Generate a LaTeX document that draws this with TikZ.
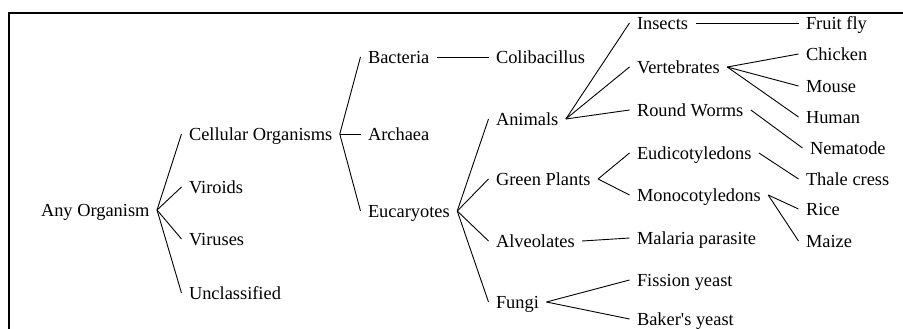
\documentclass[tikz,border=0pt]{standalone}
\usepackage{fontspec}
\setmainfont{Liberation Serif}

\begin{document}
\begin{tikzpicture}[x=1pt,y=-1pt,
    taxon/.style={anchor=west,inner xsep=4pt,outer xsep=3.5pt,inner ysep=0pt,text height=12.5pt,text depth=0pt,xshift=-7.5pt,font=\fontsize{18.4}{22}\selectfont},
    branch/.style={line width=0.9pt}]
    \useasboundingbox (0,0) rectangle (903,329);
    % Definitions
    \coordinate (AnyOrg)   at (41,210);
    \coordinate (Cellular) at (189,134);
    \coordinate (Viroids)  at (189,187);
    \coordinate (Viruses)  at (189,239);
    \coordinate (Unclass)  at (189,293);
    \coordinate (Bacteria) at (368,57);
    \coordinate (Archaea)  at (368,134);
    \coordinate (Eucar)    at (368,211);
    \coordinate (Colibac)  at (496,57);
    \coordinate (Animals)  at (496,119);
    \coordinate (GreenPl)  at (496,179);
    \coordinate (Alveol)   at (496,241);
    \coordinate (Fungi)    at (496,302);
    \coordinate (Insects)  at (637,23);
    \coordinate (Vertebr)  at (637,67);
    \coordinate (RoundW)   at (637,110);
    \coordinate (Eudicot)  at (637,153);
    \coordinate (Monocot)  at (637,195);
    \coordinate (Malaria)  at (637,238);
    \coordinate (Fission)  at (637,280);
    \coordinate (Bakers)   at (637,319);
    \coordinate (FruitFly) at (806,23);
    \coordinate (Chicken)  at (806,54);
    \coordinate (Mouse)    at (806,86);
    \coordinate (Human)    at (806,117);
    \coordinate (Nematode) at (810,148);
    \coordinate (Thale)    at (806,179);
    \coordinate (Rice)     at (806,209);
    \coordinate (Maize)    at (806,241);
    % Frame
    \draw[line width=1.3pt] (903,13) -- (9,13) -- (9,329);
    % Nodes
    \node(AO) at (AnyOrg)   [taxon] {Any Organism};
    \node(CO) at (Cellular) [taxon] {Cellular Organisms};
    \node(VD) at (Viroids)  [taxon] {Viroids};
    \node(VR) at (Viruses)  [taxon] {Viruses};
    \node(UC) at (Unclass)  [taxon] {Unclassified};
    \node(BA) at (Bacteria) [taxon] {Bacteria};
    \node(AR) at (Archaea)  [taxon] {Archaea};
    \node(EU) at (Eucar)    [taxon] {Eucaryotes};
    \node(CB) at (Colibac)  [taxon] {Colibacillus};
    \node(AN) at (Animals)  [taxon] {Animals};
    \node(GP) at (GreenPl)  [taxon] {Green Plants};
    \node(AL) at (Alveol)   [taxon] {Alveolates};
    \node(FU) at (Fungi)    [taxon] {Fungi};
    \node(IN) at (Insects)  [taxon] {Insects};
    \node(VE) at (Vertebr)  [taxon] {Vertebrates};
    \node(RW) at (RoundW)   [taxon] {Round Worms};
    \node(ED) at (Eudicot)  [taxon] {Eudicotyledons};
    \node(MC) at (Monocot)  [taxon] {Monocotyledons};
    \node(MP) at (Malaria)  [taxon] {Malaria parasite};
    \node(FI) at (Fission)  [taxon] {Fission yeast};
    \node(BY) at (Bakers)   [taxon] {Baker\textquotesingle s yeast};
    \node(FF) at (FruitFly) [taxon] {Fruit fly};
    \node(CH) at (Chicken)  [taxon] {Chicken};
    \node(MO) at (Mouse)    [taxon] {Mouse};
    \node(HU) at (Human)    [taxon] {Human};
    \node(NE) at (Nematode) [taxon] {Nematode};
    \node(TC) at (Thale)    [taxon] {Thale cress};
    \node(RI) at (Rice)     [taxon] {Rice};
    \node(MA) at (Maize)    [taxon] {Maize};
    % Branches
    \draw[branch] (AO.east) -- (CO.west);
    \draw[branch] (AO.east) -- (VD.west);
    \draw[branch] (AO.east) -- (VR.west);
    \draw[branch] (AO.east) -- (UC.west);
    \draw[branch] (CO.east) -- (BA.west);
    \draw[branch] (CO.east) -- (AR.west);
    \draw[branch] (CO.east) -- (EU.west);
    \draw[branch] (BA.east) -- (CB.west);
    \draw[branch] (EU.east) -- (AN.west);
    \draw[branch] (EU.east) -- (GP.west);
    \draw[branch] (EU.east) -- (AL.west);
    \draw[branch] (EU.east) -- (FU.west);
    \draw[branch] (AN.east) -- (IN.west);
    \draw[branch] (AN.east) -- (VE.west);
    \draw[branch] (AN.east) -- (RW.west);
    \draw[branch] (GP.east) -- (ED.west);
    \draw[branch] (GP.east) -- (MC.west);
    \draw[branch] (AL.east) -- (MP.west);
    \draw[branch] (FU.east) -- (FI.west);
    \draw[branch] (FU.east) -- (BY.west);
    \draw[branch] (IN.east) -- (FF.west);
    \draw[branch] (VE.east) -- (CH.west);
    \draw[branch] (VE.east) -- (MO.west);
    \draw[branch] (VE.east) -- (HU.west);
    \draw[branch] (RW.east) -- (NE.west);
    \draw[branch] (ED.east) -- (TC.west);
    \draw[branch] (MC.east) -- (RI.west);
    \draw[branch] (MC.east) -- (MA.west);
\end{tikzpicture}
\end{document}
